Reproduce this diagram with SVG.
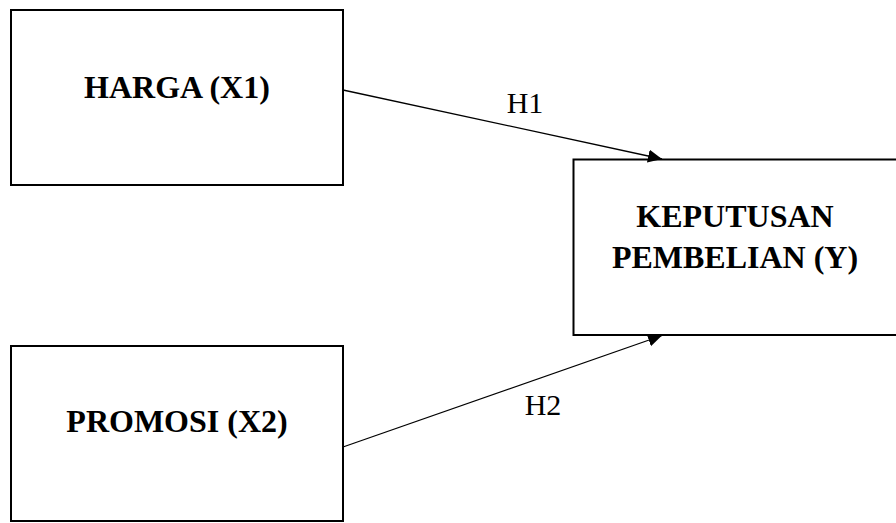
<svg xmlns="http://www.w3.org/2000/svg" width="896" height="523" viewBox="0 0 896 523">
<style>
.box{fill:#fff;stroke:#000;stroke-width:2}
.t{font-family:"Liberation Serif","Times New Roman",serif;font-weight:bold;font-size:32px;text-anchor:middle;fill:#000}
.lbl{font-family:"Liberation Serif","Times New Roman",serif;font-size:30px;text-anchor:middle;fill:#000}
.edge{stroke:#000;stroke-width:1.3;fill:none}
</style>
<defs>
<marker id="ah" markerUnits="userSpaceOnUse" markerWidth="16" markerHeight="14" refX="14" refY="6.5" orient="auto">
<path d="M0,0 L14,6.5 L0,13 z" fill="#000"/>
</marker>
</defs>
<rect width="896" height="523" fill="#fff"/>
<g id="harga">
<rect class="box" x="11" y="10" width="332" height="175"/>
<text class="t" x="177" y="98">HARGA (X1)</text>
</g>
<g id="keputusan">
<rect class="box" x="573.5" y="159.5" width="330" height="175.5"/>
<text class="t" x="735" y="227">KEPUTUSAN</text>
<text class="t" x="735" y="268">PEMBELIAN (Y)</text>
</g>
<g id="promosi">
<rect class="box" x="11" y="346" width="332" height="175"/>
<text class="t" x="177" y="432">PROMOSI (X2)</text>
</g>
<g id="connectors">
<line class="edge" x1="343" y1="90" x2="662" y2="159" marker-end="url(#ah)"/>
<line class="edge" x1="343" y1="447" x2="662" y2="335.5" marker-end="url(#ah)"/>
<text class="lbl" x="525" y="113">H1</text>
<text class="lbl" x="543" y="415">H2</text>
</g>
</svg>
